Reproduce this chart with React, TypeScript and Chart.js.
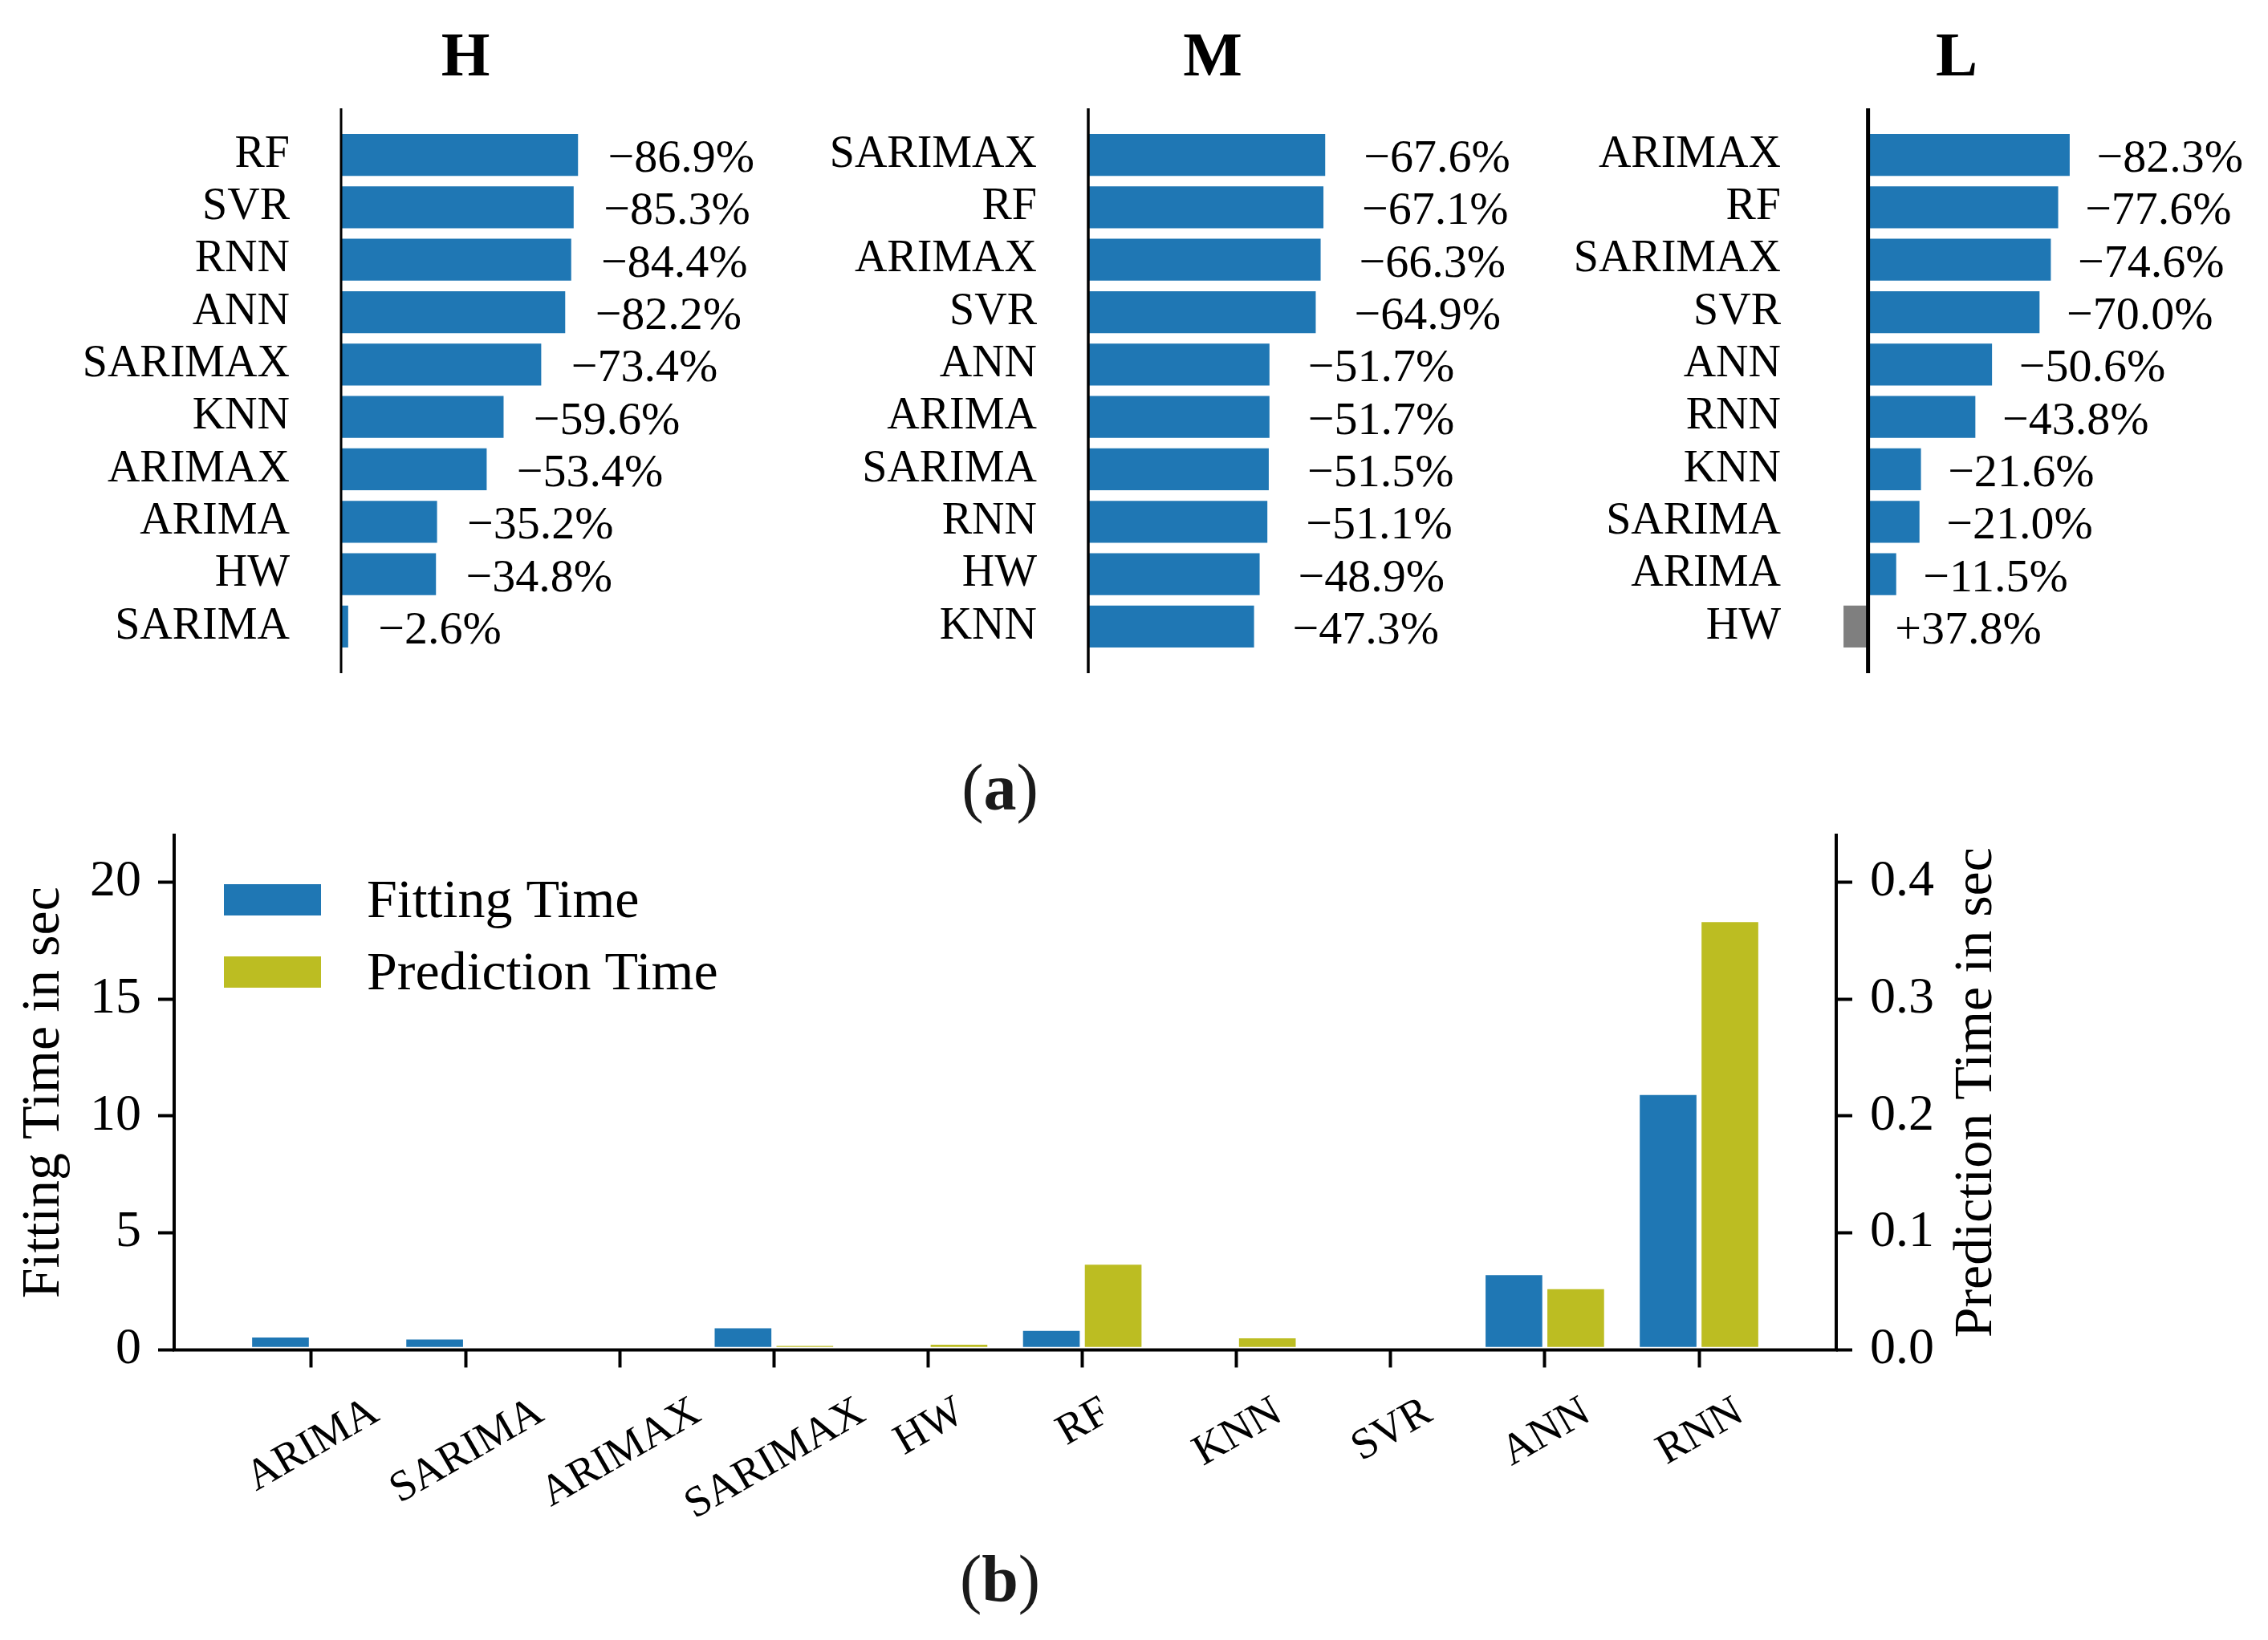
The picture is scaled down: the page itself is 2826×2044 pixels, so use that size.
import React, { useEffect, useRef } from "react";
import { Chart, registerables } from "chart.js";

Chart.register(...registerables);

const FONT = "'Liberation Serif', 'DejaVu Serif', serif";
Chart.defaults.font.family = FONT;
Chart.defaults.color = "#000";

// ---------- Panel (a): change in error per resolution ----------
const PANEL_TITLES = ["H", "M", "L"];
const H_MODELS = ["RF", "SVR", "RNN", "ANN", "SARIMAX", "KNN", "ARIMAX", "ARIMA", "HW", "SARIMA"];
const H_CHANGE = [-86.9, -85.3, -84.4, -82.2, -73.4, -59.6, -53.4, -35.2, -34.8, -2.6];
const M_MODELS = ["SARIMAX", "RF", "ARIMAX", "SVR", "ANN", "ARIMA", "SARIMA", "RNN", "HW", "KNN"];
const M_CHANGE = [-67.6, -67.1, -66.3, -64.9, -51.7, -51.7, -51.5, -51.1, -48.9, -47.3];
const L_MODELS = ["ARIMAX", "RF", "SARIMAX", "SVR", "ANN", "RNN", "KNN", "SARIMA", "ARIMA", "HW"];
const L_CHANGE = [-82.3, -77.6, -74.6, -70.0, -50.6, -43.8, -21.6, -21.0, -11.5, 37.8];
// positive changes (worse) are drawn as a short grey stub of this length
const POSITIVE_CAP = 10;
const LABEL_OFFSET = 11; // data units between bar end and its value label

// ---------- Panel (b): fitting / prediction time ----------
const MODELS_B = ["ARIMA", "SARIMA", "ARIMAX", "SARIMAX", "HW", "RF", "KNN", "SVR", "ANN", "RNN"];
const FIT_TIME = [0.64, 0.55, 0.05, 1.03, 0.05, 0.92, 0.05, 0.05, 3.3, 11.0];
const PRED_TIME = [0.001, 0.001, 0.001, 0.0056, 0.0065, 0.075, 0.012, 0.001, 0.054, 0.368];
const FIT_TICKS = [0, 5, 10, 15, 20];
const PRED_TICKS = [0, 0.1, 0.2, 0.3, 0.4];
const SERIES_NAMES = ["Fitting Time", "Prediction Time"];
const AXIS_TITLES = ["Fitting Time in sec", "Prediction Time in sec"];

const BLUE = "#1f77b4";
const GREY = "#7f7f7f";
const OLIVE = "#bcbd22";

// ---------- layout constants (page px) ----------
const A_YW = 420;
const A_AXES_W = 310;
const A_RIGHT = 280;
const A_TOP = 135;
const A_BOTTOM = 839;
const A_PAD_BOTTOM = 130;
const A_H = A_BOTTOM + A_PAD_BOTTOM;

function BarPanel(props: {
  title: string;
  models: string[];
  change: number[];
  axesLeft: number;
  spineWidth: number;
}) {
  const ref = useRef<HTMLCanvasElement>(null);
  const { title, models, change, axesLeft, spineWidth } = props;
  const W = A_YW + A_AXES_W + A_RIGHT;

  useEffect(() => {
    const plotted = change.map((c) => (c < 0 ? -c : -Math.min(c, POSITIVE_CAP)));
    const lo = Math.min(0, ...plotted);
    const hi = Math.max(0, ...plotted);
    const pad = 0.05 * (hi - lo);
    const xmin = lo < 0 ? lo - pad : 0;
    const xmax = hi + pad;

    const decor = {
      id: "panelDecor",
      afterDraw(chart: any) {
        const { ctx, chartArea } = chart;
        const xs = chart.scales.x;
        const ys = chart.scales.y;
        ctx.save();
        // spine at zero
        ctx.strokeStyle = "#000";
        ctx.lineWidth = spineWidth;
        const x0 = xs.getPixelForValue(0);
        ctx.beginPath();
        ctx.moveTo(x0, chartArea.top);
        ctx.lineTo(x0, chartArea.bottom);
        ctx.stroke();
        // title
        ctx.fillStyle = "#000";
        ctx.font = `bold 78px ${FONT}`;
        ctx.textAlign = "center";
        ctx.textBaseline = "alphabetic";
        ctx.fillText(title, (chartArea.left + chartArea.right) / 2, 94);
        // value labels
        ctx.font = `58px ${FONT}`;
        ctx.textAlign = "left";
        change.forEach((c, i) => {
          const txt = (c < 0 ? "\u2212" : "+") + Math.abs(c).toFixed(1) + "%";
          const px = xs.getPixelForValue(Math.max(plotted[i], 0) + LABEL_OFFSET);
          const py = ys.getPixelForValue(i) + 21;
          ctx.fillText(txt, px, py);
        });
        ctx.restore();
      },
    };

    const chart = new Chart(ref.current!, {
      type: "bar",
      data: {
        datasets: [
          {
            data: plotted.map((v, i) => ({ x: v, y: i })),
            backgroundColor: change.map((c) => (c > 0 ? GREY : BLUE)),
            borderWidth: 0,
            categoryPercentage: 1,
            barPercentage: 0.8,
          } as any,
        ],
      },
      options: {
        indexAxis: "y",
        animation: false,
        responsive: false,
        events: [],
        layout: {
          padding: { left: 0, top: A_TOP, right: A_RIGHT, bottom: A_PAD_BOTTOM },
          autoPadding: false,
        } as any,
        plugins: { legend: { display: false }, tooltip: { enabled: false } },
        scales: {
          x: { type: "linear", min: xmin, max: xmax, display: false, offset: false },
          y: {
            type: "linear",
            reverse: true,
            offset: false,
            min: -0.89,
            max: 9.89,
            afterBuildTicks: (s: any) => {
              s.ticks = models.map((_, i) => ({ value: i }));
            },
            afterFit: (s: any) => {
              s.width = A_YW;
            },
            ticks: {
              callback: (v: any) => models[Math.round(Number(v))] ?? "",
              font: { size: 56, family: FONT },
              color: "#000",
              padding: 56,
              autoSkip: false,
            },
            grid: { display: false, offset: false },
            border: { display: false },
          } as any,
        },
      },
      plugins: [decor],
    });
    return () => chart.destroy();
  }, []);

  return (
    <canvas
      ref={ref}
      width={W}
      height={A_H}
      style={{ position: "absolute", left: axesLeft - A_YW, top: 0, width: W, height: A_H }}
    />
  );
}

// ---------- panel (b) ----------
const B_TOP = 960;
const B_W = 2826;
const B_H = 1084;
const B_AX_LEFT = 217;
const B_AX_RIGHT = 2288;
const B_AX_TOP = 1041 - B_TOP;
const B_AX_BOTTOM = 1682.4 - B_TOP;
const B_RW = 200;

function TimePanel() {
  const ref = useRef<HTMLCanvasElement>(null);
  useEffect(() => {
    const decor = {
      id: "timeDecor",
      afterDraw(chart: any) {
        const { ctx, chartArea } = chart;
        const xs = chart.scales.x;
        ctx.save();
        ctx.strokeStyle = "#000";
        ctx.fillStyle = "#000";
        ctx.lineWidth = 4;
        ctx.lineCap = "square";
        ctx.beginPath();
        ctx.moveTo(chartArea.left, chartArea.top);
        ctx.lineTo(chartArea.left, chartArea.bottom);
        ctx.lineTo(chartArea.right, chartArea.bottom);
        ctx.lineTo(chartArea.right, chartArea.top);
        ctx.stroke();

        // x tick labels, rotated 30 degrees, centred on the tick
        const ang = Math.PI / 6;
        const fs = 54;
        ctx.font = `${fs}px ${FONT}`;
        MODELS_B.forEach((m, i) => {
          const w = ctx.measureText(m).width;
          const h = 0.78 * fs;
          const bh = w * Math.sin(ang) + h * Math.cos(ang);
          const cx = xs.getPixelForValue(i);
          const cy = 775 + bh / 2;
          ctx.save();
          ctx.translate(cx, cy);
          ctx.rotate(-ang);
          ctx.textAlign = "center";
          ctx.textBaseline = "alphabetic";
          ctx.fillText(m, 0, 0.33 * fs);
          ctx.restore();
        });

        // axis titles (both read bottom-to-top)
        ctx.font = `68px ${FONT}`;
        const cy = (chartArea.top + chartArea.bottom) / 2;
        [
          { t: AXIS_TITLES[0], x: 73 },
          { t: AXIS_TITLES[1], x: 2481 },
        ].forEach(({ t, x }) => {
          ctx.save();
          ctx.translate(x, cy);
          ctx.rotate(-Math.PI / 2);
          ctx.textAlign = "center";
          ctx.textBaseline = "alphabetic";
          ctx.fillText(t, 0, 0);
          ctx.restore();
        });

        // legend
        ctx.font = `68px ${FONT}`;
        ctx.textAlign = "left";
        chart.data.datasets.forEach((ds: any, k: number) => {
          ctx.fillStyle = ds.backgroundColor;
          ctx.fillRect(279, 142 + k * 90, 121, 39);
          ctx.fillStyle = "#000";
          ctx.fillText(ds.label, 457, 183 + k * 90);
        });
        ctx.restore();
      },
    };

    const barStyle = {
      barThickness: 77,
      borderWidth: 3.5,
      borderColor: "#ffffff",
      borderSkipped: false,
    };

    const tickGrid = {
      display: true,
      drawOnChartArea: false,
      drawTicks: true,
      tickWidth: 4,
      tickColor: "#000",
      offset: false,
    };

    const chart = new Chart(ref.current!, {
      type: "bar",
      data: {
        datasets: [
          {
            label: SERIES_NAMES[0],
            data: MODELS_B.map((_, i) => ({ x: i, y: FIT_TIME[i] })),
            backgroundColor: BLUE,
            yAxisID: "y",
            ...barStyle,
          } as any,
          {
            label: SERIES_NAMES[1],
            data: MODELS_B.map((_, i) => ({ x: i, y: PRED_TIME[i] })),
            backgroundColor: OLIVE,
            yAxisID: "y1",
            ...barStyle,
          } as any,
        ],
      },
      options: {
        animation: false,
        responsive: false,
        events: [],
        layout: {
          padding: { left: 0, top: B_AX_TOP, right: B_W - B_AX_RIGHT - B_RW, bottom: 0 },
          autoPadding: false,
        } as any,
        plugins: { legend: { display: false }, tooltip: { enabled: false } },
        scales: {
          x: {
            type: "linear",
            offset: false,
            min: -0.89,
            max: 9.89,
            afterBuildTicks: (s: any) => {
              s.ticks = MODELS_B.map((_, i) => ({ value: i }));
            },
            afterFit: (s: any) => {
              s.height = B_H - B_AX_BOTTOM;
            },
            ticks: { display: false },
            grid: { ...tickGrid, tickLength: 22 },
            border: { display: false },
          } as any,
          y: {
            type: "linear",
            position: "left",
            min: 0,
            max: 22,
            afterBuildTicks: (s: any) => {
              s.ticks = FIT_TICKS.map((v) => ({ value: v }));
            },
            afterFit: (s: any) => {
              s.width = B_AX_LEFT;
            },
            ticks: {
              callback: (v: any) => String(v),
              font: { size: 64, family: FONT },
              color: "#000",
              padding: 21,
            },
            grid: { ...tickGrid, tickLength: 20 },
            border: { display: false },
          } as any,
          y1: {
            type: "linear",
            position: "right",
            min: 0,
            max: 0.44,
            afterBuildTicks: (s: any) => {
              s.ticks = PRED_TICKS.map((v) => ({ value: v }));
            },
            afterFit: (s: any) => {
              s.width = B_RW;
            },
            ticks: {
              callback: (v: any) => Number(v).toFixed(1),
              font: { size: 64, family: FONT },
              color: "#000",
              padding: 22,
            },
            grid: { ...tickGrid, tickLength: 20 },
            border: { display: false },
          } as any,
        },
      },
      plugins: [decor],
    });
    return () => chart.destroy();
  }, []);

  return (
    <canvas
      ref={ref}
      width={B_W}
      height={B_H}
      style={{ position: "absolute", left: 0, top: B_TOP, width: B_W, height: B_H }}
    />
  );
}

function Caption(props: { letter: string; top: number }) {
  return (
    <div
      style={{
        position: "absolute",
        left: 1046,
        width: 400,
        top: props.top,
        textAlign: "center",
        fontFamily: FONT,
        fontSize: 82,
        lineHeight: "82px",
        color: "#1a1a1a",
        whiteSpace: "nowrap",
      }}
    >
      (<b>{props.letter}</b>)
    </div>
  );
}

export default function App() {
  const panels = [
    { models: H_MODELS, change: H_CHANGE, axesLeft: 425.4, spineWidth: 3 },
    { models: M_MODELS, change: M_CHANGE, axesLeft: 1355.6, spineWidth: 3.5 },
    { models: L_MODELS, change: L_CHANGE, axesLeft: 2283.4, spineWidth: 5 },
  ];
  return (
    <div
      style={{
        position: "absolute",
        left: 0,
        top: 0,
        width: 2826,
        height: 2044,
        background: "#fff",
        overflow: "hidden",
      }}
    >
      {panels.map((p, k) => (
        <BarPanel key={k} title={PANEL_TITLES[k]} {...p} />
      ))}
      <Caption letter="a" top={941} />
      <TimePanel />
      <Caption letter="b" top={1927} />
    </div>
  );
}
